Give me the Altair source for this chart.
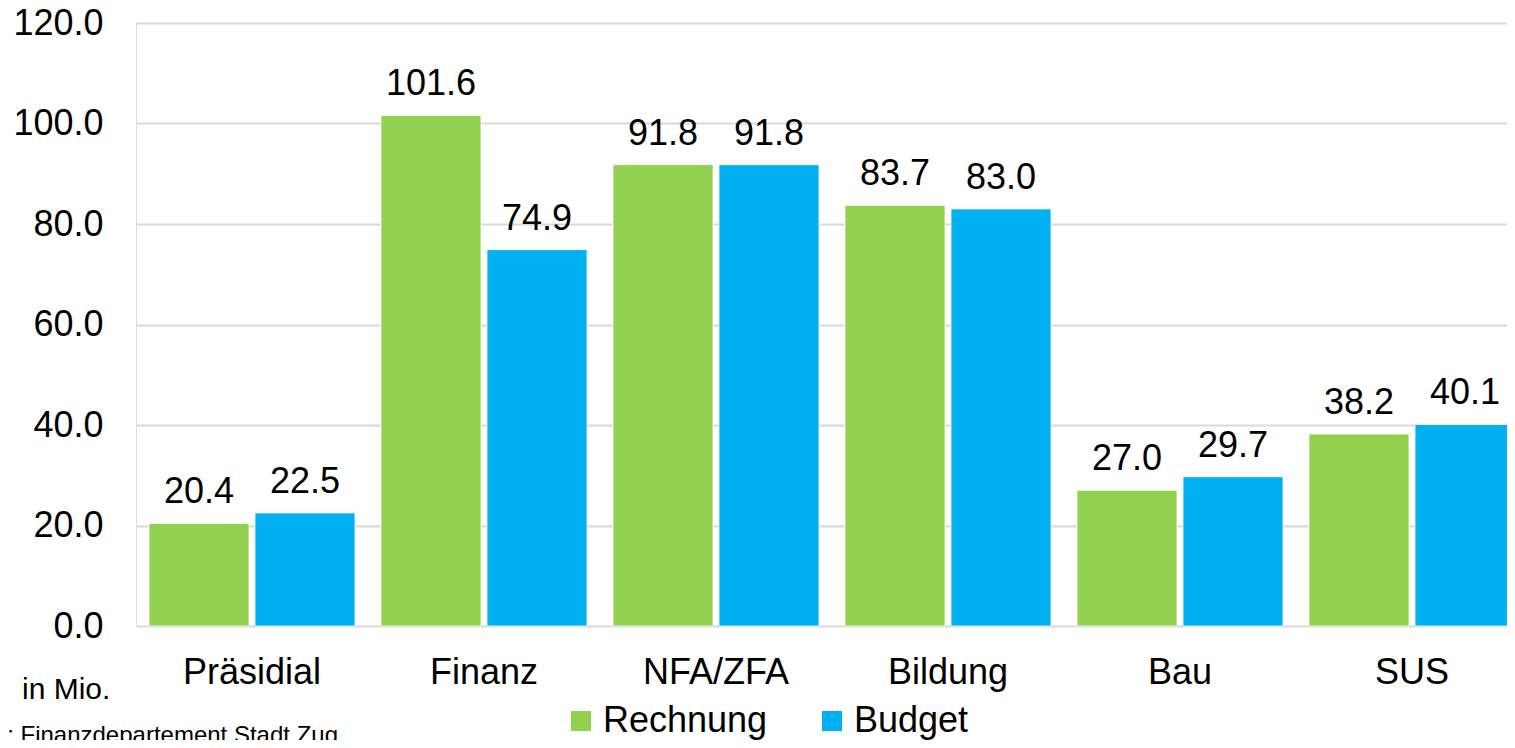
import altair as alt
import pandas as pd

categories = ["Präsidial", "Finanz", "NFA/ZFA", "Bildung", "Bau", "SUS"]
rechnung = [20.4, 101.6, 91.8, 83.7, 27.0, 38.2]
budget = [22.5, 74.9, 91.8, 83.0, 29.7, 40.1]
series = ["Rechnung", "Budget"]
colors = ["#92D050", "#00B0F0"]
y_ticks = [0, 20, 40, 60, 80, 100, 120]
unit_note = "in Mio."
source_note = "Quelle: Finanzdepartement Stadt Zug"

rows = []
for c, r, b in zip(categories, rechnung, budget):
    rows.append({"cat": c, "series": "Rechnung", "value": r})
    rows.append({"cat": c, "series": "Budget", "value": b})
df = pd.DataFrame(rows)

FONT = "Liberation Sans"

x_enc = alt.X(
    "cat:N",
    sort=categories,
    scale=alt.Scale(range=[0, 1392], paddingInner=0.112, paddingOuter=0.056),
    axis=alt.Axis(
        title=None,
        labelAngle=0,
        labelFontSize=36,
        labelFont=FONT,
        labelColor="#000000",
        labelBaseline="alphabetic",
        labelPadding=57,
        ticks=False,
        tickSize=0,
        domain=False,
        grid=False,
    ),
)
xoff_enc = alt.XOffset(
    "series:N",
    sort=series,
    scale=alt.Scale(domain=series, paddingInner=0.0566, paddingOuter=0),
)
y_enc = alt.Y(
    "value:Q",
    scale=alt.Scale(domain=[0, 120], nice=False, zero=True),
    axis=alt.Axis(
        title=None,
        values=y_ticks,
        format=".1f",
        labelFontSize=36,
        labelFont=FONT,
        labelColor="#000000",
        labelPadding=33,
        ticks=False,
        tickSize=0,
        domain=False,
        grid=True,
        gridColor="#D9D9D9",
        gridWidth=2,
    ),
)
color_enc = alt.Color(
    "series:N",
    sort=series,
    scale=alt.Scale(domain=series, range=colors),
    legend=alt.Legend(
        title=None,
        orient="none",
        direction="horizontal",
        legendX=427,
        legendY=680,
        symbolType="square",
        symbolSize=400,
        symbolStrokeWidth=0,
        symbolOpacity=1,
        labelFontSize=36,
        labelFont=FONT,
        labelColor="#000000",
        labelOffset=4,
        labelLimit=0,
        columnPadding=46,
        padding=0,
    ),
)

base = alt.Chart(df)
bars = base.mark_bar(stroke="#FFFFFF", strokeWidth=0.8).encode(
    x=x_enc, xOffset=xoff_enc, y=y_enc, color=color_enc
)
labels = base.mark_text(
    fontSize=36, font=FONT, color="#000000", baseline="alphabetic", dy=-20
).encode(
    x=alt.X("cat:N", sort=categories),
    xOffset=alt.XOffset("series:N", sort=series),
    y="value:Q",
    text=alt.Text("value:Q", format=".1f"),
)

note = alt.Chart(pd.DataFrame({"t": [unit_note]})).mark_text(
    fontSize=30, font=FONT, color="#000000", align="left", baseline="alphabetic"
).encode(x=alt.value(-114), y=alt.value(676), text="t:N")

src = alt.Chart(pd.DataFrame({"t": [source_note]})).mark_text(
    fontSize=24, font=FONT, color="#000000", align="right", baseline="alphabetic"
).encode(x=alt.value(202), y=alt.value(720), text="t:N")

chart = (
    alt.layer(bars, labels, note, src)
    .properties(
        width=1371,
        height=603,
        autosize=alt.AutoSizeParams(type="none"),
        padding={"left": 128, "top": 15, "right": 0, "bottom": 114},
    )
    .configure_view(stroke=None)
    .configure(background="#FFFFFF")
)

chart.save("out.html", embed_options={"renderer": "svg", "actions": False})
